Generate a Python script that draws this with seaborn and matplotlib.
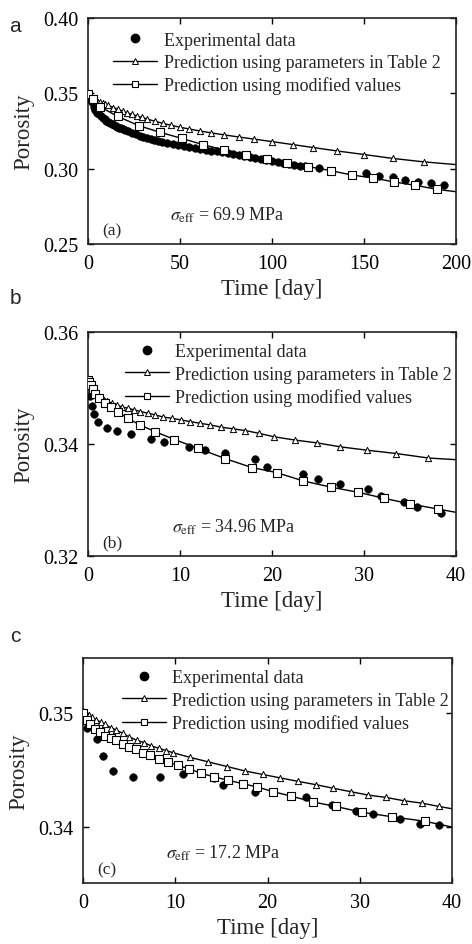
import numpy as np
import pandas as pd
import matplotlib
matplotlib.use("Agg")
import matplotlib.pyplot as plt
from matplotlib.lines import Line2D
from matplotlib.ticker import FormatStrFormatter, MultipleLocator
import seaborn as sns

# ---------------- data ----------------
# Panel (a): sigma_eff = 69.9 MPa
a_exp_t = [0, 1, 2, 3, 4, 5, 6, 7, 8, 9, 10, 11, 12, 13, 14, 15, 16, 17, 18, 19, 20,
           22, 24, 26, 28, 30, 32, 34, 36, 38, 40, 43, 46, 49, 52, 55, 58, 61, 64, 67,
           70, 73, 76, 79, 82, 85, 88, 91, 94, 97, 100, 103, 106, 109, 112, 115, 118,
           125.7, 151.1, 158, 165.6, 172.3, 179.2, 186.4, 193.5]
a_exp_v = [0.3480, 0.3472, 0.3445, 0.3412, 0.3388, 0.3372, 0.3360, 0.3348, 0.3337, 0.3327,
           0.3318, 0.3310, 0.3302, 0.3296, 0.3290, 0.3284, 0.3278, 0.3273, 0.3267, 0.3262,
           0.3256, 0.3248, 0.3238, 0.3229, 0.3220, 0.3211, 0.3204, 0.3197, 0.3190, 0.3185,
           0.3180, 0.3172, 0.3165, 0.3158, 0.3151, 0.3145, 0.3139, 0.3133, 0.3127, 0.3120,
           0.3114, 0.3108, 0.3102, 0.3096, 0.3090, 0.3084, 0.3078, 0.3072, 0.3065, 0.3058,
           0.3052, 0.3045, 0.3039, 0.3033, 0.3027, 0.3021, 0.3015,
           0.3004, 0.2970, 0.2953, 0.2942, 0.2927, 0.2913, 0.2905, 0.2894]
a_tab_t = [0, 1, 2, 3, 4, 5, 6.5, 8, 9.5, 11, 13.8, 16.5, 18.9, 21, 23.7, 26.5, 29.2, 31.9,
           36.4, 40.9, 45.1, 50, 55.1, 60.9, 66.8, 74.1, 82.1, 90.4, 99.8, 111.2, 122.5,
           135.1, 150, 165.6, 182.6]
a_tab_v = [0.3500, 0.3482, 0.3470, 0.3461, 0.3454, 0.3448, 0.3440, 0.3433, 0.3426, 0.3420,
           0.3405, 0.3393, 0.3382, 0.3372, 0.3361, 0.3350, 0.3340, 0.3330, 0.3315, 0.3300,
           0.3288, 0.3275, 0.3263, 0.3250, 0.3238, 0.3224, 0.3210, 0.3196, 0.3180, 0.3160,
           0.3140, 0.3118, 0.3094, 0.3068, 0.3045]
a_tab_end = (200, 0.3027)
a_mod_t = [0, 2.5, 6.5, 16.1, 27.7, 39.3, 50.9, 62.7, 74.1, 85.7, 97.1, 108.3, 119.7,
           131.9, 143.3, 155.1, 166.3, 177.7, 189.5]
a_mod_v = [0.3495, 0.3460, 0.3411, 0.3347, 0.3285, 0.3241, 0.3201, 0.3159, 0.3124, 0.3093,
           0.3064, 0.3040, 0.3014, 0.2987, 0.2958, 0.2938, 0.2912, 0.2890, 0.2863]
a_mod_end = (200, 0.2847)

# Panel (b): sigma_eff = 34.96 MPa
b_exp_t = [0.2, 0.4, 0.7, 1.1, 2.1, 3.2, 4.7, 6.8, 8.3, 11.0, 12.7, 14.9, 18.2, 19.5,
           23.4, 25.0, 27.4, 30.4, 31.8, 34.4, 35.8, 38.4]
b_exp_v = [0.3485, 0.3468, 0.3454, 0.3439, 0.3429, 0.3424, 0.3418, 0.3409, 0.3403, 0.3394,
           0.3390, 0.3384, 0.3373, 0.3359, 0.3347, 0.3338, 0.3329, 0.3319, 0.3307, 0.3296,
           0.3287, 0.3277]
b_tab_t = [0, 0.15, 0.3, 0.5, 0.7, 0.95, 1.3, 1.7, 2.1, 2.6, 3.1, 3.7, 4.3, 5.0, 5.7, 6.5,
           7.3, 8.2, 9.1, 10.1, 11.1, 12.2, 13.3, 14.5, 15.8, 17.1, 18.6, 20.2, 22.5, 24.9,
           27.4, 30.3, 33.5, 37.0]
b_tab_v = [0.3515, 0.3508, 0.3503, 0.3497, 0.3493, 0.3489, 0.3484, 0.3479, 0.3476, 0.3473,
           0.3470, 0.3466, 0.3464, 0.3461, 0.3458, 0.3455, 0.3452, 0.3448, 0.3446, 0.3443,
           0.3440, 0.3437, 0.3434, 0.3430, 0.3427, 0.3424, 0.3419, 0.3413, 0.3407, 0.3402,
           0.3395, 0.3389, 0.3383, 0.3375]
b_tab_end = (40, 0.3372)
b_mod_t = [0, 0.15, 0.3, 0.5, 0.8, 1.2, 1.8, 2.5, 3.3, 4.3, 5.65, 7.3, 9.4, 12.0, 14.9,
           17.8, 20.5, 23.4, 26.4, 29.3, 32.2, 35.0, 38.0]
b_mod_v = [0.3515, 0.3510, 0.3505, 0.3498, 0.3490, 0.3482, 0.3474, 0.3466, 0.3457, 0.3446,
           0.3434, 0.3422, 0.3408, 0.3392, 0.3374, 0.3358, 0.3349, 0.3334, 0.3323, 0.3314,
           0.3303, 0.3293, 0.3284]
b_mod_end = (40, 0.3278)

# Panel (c): sigma_eff = 17.2 MPa
c_exp_t = [0.03, 0.4, 1.48, 2.2, 3.3, 5.45, 8.35, 10.8, 14.2, 15.2, 18.6, 24.2, 27.0,
           29.6, 31.4, 34.4, 36.5, 38.6]
c_exp_v = [0.3496, 0.3487, 0.3477, 0.3462, 0.3449, 0.3444, 0.3444, 0.3446, 0.3443, 0.3437,
           0.3431, 0.3426, 0.3419, 0.3414, 0.3411, 0.3407, 0.3403, 0.3402]
c_tab_t = [0, 0.3, 0.6, 1.0, 1.4, 1.9, 2.4, 3.0, 3.6, 4.3, 5.0, 5.8, 6.6, 7.4, 8.2, 9.0,
           9.8, 11.6, 13.6, 15.6, 17.6, 19.5, 21.4, 23.3, 25.3, 27.1, 29.0, 30.9, 32.8,
           34.8, 36.7, 38.6]
c_tab_v = [0.3502, 0.3500, 0.3498, 0.3496, 0.3494, 0.3492, 0.3490, 0.3487, 0.3485, 0.3482,
           0.3479, 0.3476, 0.3474, 0.3471, 0.3469, 0.3467, 0.3465, 0.3461, 0.3457, 0.3453,
           0.3449, 0.3446, 0.3443, 0.3440, 0.3437, 0.3434, 0.3431, 0.3428, 0.3426, 0.3423,
           0.3421, 0.3418]
c_tab_end = (40, 0.3416)
c_mod_t = [0, 0.4, 0.8, 1.3, 1.8, 2.4, 3.0, 3.6, 4.3, 5.0, 5.7, 6.5, 7.3, 8.2, 9.2, 10.3,
           11.5, 12.8, 14.2, 15.7, 17.3, 18.9, 20.6, 22.6, 24.9, 27.4, 30.2, 33.5, 37.1]
c_mod_v = [0.3500, 0.3494, 0.3490, 0.3486, 0.3483, 0.3480, 0.3478, 0.3476, 0.3473, 0.3470,
           0.3468, 0.3465, 0.3463, 0.3460, 0.3457, 0.3454, 0.3451, 0.3447, 0.3444, 0.3441,
           0.3438, 0.3435, 0.3431, 0.3427, 0.3422, 0.3418, 0.3413, 0.3409, 0.3405]
c_mod_end = (40, 0.3400)

legend_labels = ["Experimental data",
                 "Prediction using parameters in Table 2",
                 "Prediction using modified values"]
panel_tags = ["(a)", "(b)", "(c)"]
panel_letters = ["a", "b", "c"]
stress_texts = [r"$\sigma_{\rm eff}$ = 69.9 MPa", r"$\sigma_{\rm eff}$ = 34.96 MPa",
                r"$\sigma_{\rm eff}$ = 17.2 MPa"]
x_label = "Time [day]"
y_label = "Porosity"

# ---------------- style ----------------
sns.set_theme(style="ticks")
plt.rcParams["font.family"] = ["Liberation Serif", "DejaVu Serif"]
plt.rcParams["mathtext.fontset"] = "stix"

fig = plt.figure(figsize=(4.72, 9.45), dpi=100)
W, H = 472, 945

def axes_px(l, r, t, b):
    return fig.add_axes([l / W, 1 - b / H, (r - l) / W, (b - t) / H])

panels = [
    dict(ax=axes_px(88, 456, 19, 245), xlim=(0, 200), ylim=(0.25, 0.40), xstep=50, ystep=0.05,
         exp=(a_exp_t, a_exp_v), tab=(a_tab_t, a_tab_v, a_tab_end), mod=(a_mod_t, a_mod_v, a_mod_end),
         leg=(0.068, 0.940), sig=(0.223, 0.133), tag=(0.038, 0.062), letter=(15, 27)),
    dict(ax=axes_px(88, 456, 333, 557), xlim=(0, 40), ylim=(0.32, 0.36), xstep=10, ystep=0.02,
         exp=(b_exp_t, b_exp_v), tab=(b_tab_t, b_tab_v, b_tab_end), mod=(b_mod_t, b_mod_v, b_mod_end),
         leg=(0.100, 0.950), sig=(0.228, 0.134), tag=(0.038, 0.060), letter=(15, 298)),
    dict(ax=axes_px(83, 452, 659, 884), xlim=(0, 40), ylim=(0.3351, 0.3548), xstep=10, ystep=0.01,
         exp=(c_exp_t, c_exp_v), tab=(c_tab_t, c_tab_v, c_tab_end), mod=(c_mod_t, c_mod_v, c_mod_end),
         leg=(0.105, 0.950), sig=(0.225, 0.138), tag=(0.038, 0.060), letter=(15, 636)),
]

tri_kw = dict(marker="^", s=20, facecolor="white", edgecolor="black", linewidth=0.7)
sq_kw = dict(marker="s", s=27, facecolor="white", edgecolor="black", linewidth=0.8)
dot_kw = dict(marker="o", s=30, color="black", edgecolor="black", linewidth=0.4)

for i, p in enumerate(panels):
    ax = p["ax"]
    et, ev = p["exp"]
    tt, tv, tend = p["tab"]
    mt, mv, mend = p["mod"]

    # model curves (lines)
    sns.lineplot(x=list(tt) + [tend[0]], y=list(tv) + [tend[1]], ax=ax, color="black",
                 linewidth=1.0, sort=False, estimator=None, zorder=2)
    sns.lineplot(x=list(mt) + [mend[0]], y=list(mv) + [mend[1]], ax=ax, color="black",
                 linewidth=1.0, sort=False, estimator=None, zorder=2)
    # experimental points
    sns.scatterplot(x=et, y=ev, ax=ax, zorder=3, **dot_kw)
    # markers on curves
    sns.scatterplot(x=tt, y=tv, ax=ax, zorder=4, **tri_kw)
    sns.scatterplot(x=mt, y=mv, ax=ax, zorder=5, **sq_kw)

    ax.set_xlim(*p["xlim"])
    ax.set_ylim(*p["ylim"])
    ax.xaxis.set_major_locator(MultipleLocator(p["xstep"]))
    ax.yaxis.set_major_locator(MultipleLocator(p["ystep"]))
    ax.yaxis.set_major_formatter(FormatStrFormatter("%.2f"))
    ax.tick_params(direction="in", top=True, right=True, length=4, width=1.0,
                   labelsize=14.5, pad=7, colors="black")
    for s in ax.spines.values():
        s.set_linewidth(1.2)
        s.set_color("#222222")
    ax.set_xlabel(x_label, fontsize=16.5, labelpad=4)
    ax.set_ylabel(y_label, fontsize=16.5, labelpad=6)

    handles = [
        Line2D([], [], linestyle="none", marker="o", markersize=6, color="black"),
        Line2D([], [], color="black", linewidth=1.0, marker="^", markersize=4.5,
               markerfacecolor="white", markeredgecolor="black", markeredgewidth=0.7),
        Line2D([], [], color="black", linewidth=1.0, marker="s", markersize=5,
               markerfacecolor="white", markeredgecolor="black", markeredgewidth=0.8),
    ]
    ax.legend(handles, legend_labels, loc="upper left", bbox_to_anchor=p["leg"],
              frameon=False, fontsize=13, handlelength=2.45, handletextpad=0.35,
              labelspacing=0.3, borderpad=0, borderaxespad=0)

    ax.text(p["sig"][0], p["sig"][1], stress_texts[i], transform=ax.transAxes,
            fontsize=13, va="center", ha="left")
    ax.text(p["tag"][0], p["tag"][1], panel_tags[i], transform=ax.transAxes,
            fontsize=12.5, va="center", ha="left")
    fig.text(p["letter"][0] / W, 1 - p["letter"][1] / H, panel_letters[i],
             fontsize=15, family="Liberation Sans", ha="center", va="center")

fig.savefig("out.png", dpi=100)
